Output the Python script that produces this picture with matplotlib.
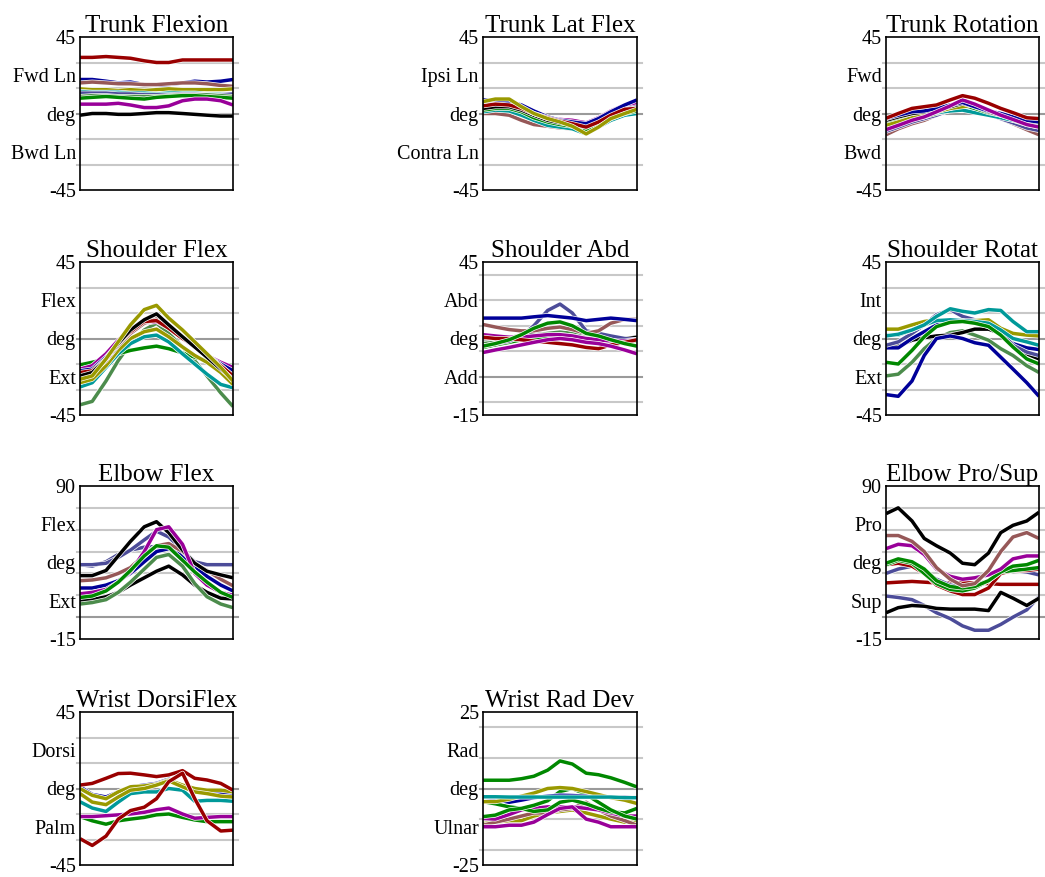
"""
Joint angle traces over one movement cycle,
one small panel per joint.
"""

import matplotlib

matplotlib.use("Agg")
import matplotlib.patheffects as pe
import matplotlib.pyplot as plt
import numpy as np

plt.rcParams["font.family"] = ["Liberation Serif", "DejaVu Serif"]

# percent of cycle
pct = [0, 8, 17, 25, 33, 42, 50, 58, 67, 75, 83, 92, 100]

RED = "#990000"
NAVY = "#000099"
BROWN = "#965858"
OLIVE = "#999900"
TEAL = "#009999"
GREEN = "#008800"
PURPLE = "#990099"
BLACK = "#000000"
SLATE = "#4c4c99"
SAGE = "#4c8c4c"

trunk_flex = [
    [33, 33, 33.5, 33, 32.5, 31, 30, 30, 31.5, 31.5, 31.5, 31.5, 31.5],
    [20, 20, 19, 18, 18.5, 17, 16.5, 17, 18, 19, 18.5, 19, 20],
    [18, 18.5, 18, 17.5, 17.5, 17, 17, 17.5, 18, 18, 17.5, 16.5, 16],
    [14.5, 14, 14, 13.5, 14, 13.5, 14, 14.5, 14, 14, 14, 14, 14.5],
    [13, 12.5, 12.5, 12.5, 12, 12, 11.5, 12, 12, 12, 11.5, 11.5, 11],
    [12, 12, 12, 11.5, 11.5, 11, 11, 11, 11.5, 11.5, 11, 11, 11.5],
    [10, 10.5, 10.5, 10, 10, 10, 10, 10.5, 11, 11, 11, 10.5, 10],
    [9, 9.5, 10, 9.5, 9, 8.5, 9.5, 10, 10.5, 10.5, 10, 9.5, 9],
    [5.5, 5.5, 5.5, 6, 5, 3.5, 3.5, 4.5, 7.5, 8.5, 8.5, 7.5, 5],
    [-1, 0, 0, -0.5, -0.5, 0, 0.5, 0.5, 0, -0.5, -1, -1.5, -1.5],
]
trunk_flex_colors = [RED, NAVY, BROWN, OLIVE, TEAL, SLATE, SAGE, GREEN, PURPLE, BLACK]

trunk_lat = [
    [1.5, 2, 2, 0, -3, -6, -7, -8.5, -10, -7, -3, -0.5, 0],
    [0, 0, -1, -4, -6.5, -7.5, -8.5, -9, -9.5, -7, -3, 0, 1],
    [1, 2, 1.5, -1, -4, -7, -8, -9, -12, -8, -4, -1, 0],
    [2, 3, 3, 1, -2.5, -5, -6.5, -7.5, -9.5, -6.5, -3, 0, 1.5],
    [3, 4, 4, 2, -1, -4, -5.5, -6.5, -8, -5, -1.5, 2, 3.5],
    [6, 7, 6, 4, 0.5, -2.5, -4, -5, -6.5, -3.5, 0, 4, 6],
    [6.5, 6, 5.5, 3.5, 0, -3, -3.5, -4, -5.5, -2.5, 1.5, 5, 6.5],
    [8, 8, 7, 5, 1.5, -2, -4, -5, -6, -3, 1, 5, 8],
    [4.5, 5.5, 5, 3, 0, -2.5, -4.5, -6, -8, -5, -1, 2.5, 3],
    [7, 8.5, 8.5, 4, 0, -3, -5, -7.5, -12, -8, -3, 0, 2.5],
]
trunk_lat_colors = [SAGE, BROWN, TEAL, GREEN, BLACK, SLATE, PURPLE, NAVY, RED, OLIVE]

trunk_rot = [
    [-12.5, -9, -6, -4, -1, 3, 6.5, 4, 0, -3, -6, -9.5, -12.5],
    [-10.5, -8, -5, -3, -1, 2, 5, 3, -0.5, -3, -5.5, -8.5, -10],
    [-8, -6, -3.5, -2, 0, 2, 4, 2.5, 0, -2, -4, -6.5, -8],
    [-5, -3, -1, 0, 0.5, 1.5, 2, 0.5, -1, -2.5, -4, -5.5, -6],
    [-6, -4, -2, 0, 1.5, 3, 5, 3, 0.5, -1, -3, -5, -6.5],
    [-7, -5, -2.5, -1, 1, 3, 4, 5, 2, -0.5, -3, -5, -7],
    [-4, -2, 0, 1, 2, 4, 6, 4, 1, -1, -3, -5, -5.5],
    [-3, -1, 1, 1.5, 3, 5, 6.5, 4, 1.5, 0, -2, -4, -5],
    [-9.5, -7, -4, -2, 1, 4.5, 8, 5.5, 2, -1, -3.5, -6.5, -8],
    [-2.8, 0, 3, 4, 5, 8, 10.5, 9, 6, 3, 0.5, -2.5, -3],
]
trunk_rot_colors = [BROWN, SLATE, SAGE, TEAL, GREEN, OLIVE, BLACK, NAVY, PURPLE, RED]

shoulder_flex = [
    [-39, -37, -25, -13, -3, 5, 9, 3, -5, -13, -22, -32, -40],
    [-15.5, -14, -12, -9, -7, -5.5, -4.5, -6, -8.5, -11, -13, -15, -16],
    [-28.5, -26, -17, -9, -3, 1, 2, -2, -9, -15, -21, -27, -29],
    [-26, -24, -16, -7, 0, 4, 5.5, 1, -5, -10, -14, -20, -27],
    [-18, -16, -9, -1, 5, 9, 10, 6, 0, -5, -10, -14, -17],
    [-19, -18, -11, -3, 4, 9, 11, 7, 1, -4, -10, -15, -19],
    [-21, -20, -13, -4, 3, 9, 11.5, 7, 1, -4, -10, -16, -22],
    [-20, -19, -12, -3, 4, 10, 10.5, 6, 0, -4, -10, -16, -22],
    [-22, -20, -12, -3, 5, 11, 14.5, 8, 1, -5, -11, -18, -24],
    [-24, -22, -12, -2, 8, 17, 19.5, 12, 5, -2, -9, -17, -25],
]
shoulder_flex_colors = [SAGE, GREEN, TEAL, OLIVE, PURPLE, NAVY, BROWN, RED, BLACK, OLIVE]

shoulder_abd = [
    [14.5, 14.5, 15, 15, 15.5, 16, 16, 15.5, 15, 15, 15, 14.5, 14],
    [15, 15, 15.5, 16, 16.5, 17, 17, 16.5, 16, 15.5, 15, 15, 15.5],
    [13, 13.5, 14, 15, 16, 17, 17.5, 17, 16, 15.5, 15, 14.5, 14],
    [11.5, 12.5, 13.5, 14.5, 15, 16, 16.5, 16, 15, 14.5, 14, 14, 14],
    [12, 13, 14, 16, 20, 26, 28.5, 25, 18, 17, 16, 15, 14.5],
    [20.5, 19.5, 18.5, 18, 18, 19, 19.5, 18.5, 17, 18, 21, 22.5, 22.5],
    [16.5, 16, 15.5, 15.5, 16, 16.5, 16.5, 16, 15, 14.5, 14, 14, 14.5],
    [15.5, 15, 15, 14.5, 14, 13.5, 13, 12.5, 11.5, 11, 12.5, 13.5, 14.5],
    [12, 13, 14.5, 16.5, 19, 21, 21.5, 20, 17, 16, 14.5, 13, 12],
    [9.5, 10.5, 11.5, 12.5, 13.5, 14.5, 15, 14.5, 13.5, 13, 12, 10.5, 9],
    [23, 23, 23, 23, 23.5, 24, 23.5, 23, 22, 22.5, 23, 22.5, 22],
]
shoulder_abd_colors = [TEAL, BLACK, SAGE, GREEN, SLATE, BROWN, PURPLE, RED, GREEN, PURPLE, NAVY]

shoulder_rot = [
    [-22, -21, -14, -6, 0, 3.5, 4.5, 2, -1, -6, -10, -16, -20],
    [-3.5, -4.5, -1, 0.5, 1.5, 2, 3.5, 5.5, 5.5, 3, -4, -9, -12],
    [-5.5, -5.5, 0, 4, 8, 10.5, 10, 9.5, 7, 3, -3, -5.5, -6.5],
    [-4, -2, 3, 8, 14, 17, 13, 11, 8.5, 4, -4, -8, -10],
    [5.5, 5.5, 8, 10, 11, 10.5, 10, 10.5, 11, 6, 3, 2, 1.5],
    [2, 2, 5, 8, 10.5, 11, 10.5, 10, 9, 5, 0, -2, -4],
    [1.5, 2.5, 5, 8, 13, 17.5, 16, 15, 17, 16.5, 10, 4, 4],
    [-14, -15, -7, 1, 7, 9.5, 10, 9, 7, 2, -5, -12, -15],
    [-33, -34, -25, -10, 0, 1.5, 0, -2.5, -4, -11, -18, -26, -34],
]
shoulder_rot_colors = [SAGE, BLACK, NAVY, SLATE, OLIVE, TEAL, TEAL, GREEN, NAVY]

elbow_flex = [
    [36, 35, 38, 43, 46, 48, 48.5, 47, 40, 36, 36, 36, 35.5],
    [36, 36, 37, 41, 46, 53, 59, 55, 46, 38, 36, 36, 36],
    [11, 12, 14, 17, 22, 27, 31.5, 35, 29, 22, 17, 13, 12.5],
    [20, 20, 22, 25, 30, 38, 45, 47, 42, 35, 28, 22, 18],
    [25, 25.5, 27, 30, 34, 43, 49, 50.5, 45, 37, 32, 26, 21.5],
    [28.5, 28.5, 32, 42, 52, 62, 65.5, 58, 46, 37, 31.5, 29, 27],
    [16, 17, 19, 24, 31, 45, 60, 62, 50, 30, 22, 17, 15],
    [13.5, 14.5, 18, 24, 32, 42, 49, 48, 39, 31, 24, 17, 13.5],
    [9, 10, 12, 17, 24, 33, 41, 43, 35, 23, 14, 9, 6.5],
]
elbow_flex_colors = [SLATE, SLATE, BLACK, NAVY, BROWN, BLACK, PURPLE, GREEN, SAGE]

elbow_pro = [
    [14.5, 13.5, 12, 8, 3, -1, -6, -9, -9, -5, 0, 5, 14],
    [3, 6.5, 8, 7.5, 6, 5.5, 5.5, 5.5, 4.5, 17, 13, 8, 13],
    [23.5, 24, 24.5, 24, 23.5, 23.5, 23.5, 23.5, 23, 22.5, 22.5, 22.5, 22.5],
    [30, 33, 35, 31, 26, 22, 21, 22, 25, 30, 32, 31, 29],
    [36, 37, 35, 30, 22, 18, 15.5, 15.5, 20, 30, 32, 32, 33],
    [36, 39, 37, 30, 23, 19, 18, 20, 25, 31, 32, 33, 34],
    [37, 40, 38, 33, 25, 21, 20, 21, 25, 31, 35, 36, 39],
    [47, 50, 49, 43, 33, 28, 26, 27, 29, 33, 40, 42, 42],
    [56, 56, 52, 45, 34, 26, 21.5, 23, 32, 45, 55, 58, 54],
    [71, 75, 66, 54, 49, 44, 37, 36, 44, 58, 63, 66, 72],
]
elbow_pro_colors = [SLATE, BLACK, RED, SLATE, RED, GREEN, GREEN, PURPLE, BROWN, BLACK]

wrist_dorsi = [
    [-16.5, -19, -21, -19, -18, -17, -15.5, -15, -17, -18.5, -19.5, -19.5, -19.5],
    [-16.5, -16.5, -16, -15.5, -15, -14, -12.5, -11.5, -15, -17.5, -17, -16.5, -16.5],
    [-7.8, -11.5, -13.5, -8, -3, -2, -2, 0, -1, -7.5, -7, -7, -7.5],
    [1, -3.5, -5, -2, 1, 2, 3, 5.5, 1, -1.5, -2, -3, -4],
    [0, -4, -6, -2, 1, 1.5, 2.5, 5, 2, 0, -1, -1, -2],
    [-3, -8, -9.5, -5, -1, 0, 2, 4.5, 1, -2, -3, -4.5, -5],
    [2, 3, 6, 8.8, 9, 8, 7, 8, 10.5, 6, 5, 3, -1],
    [-29.5, -33.5, -28, -18, -13, -11, -6, 4, 9, -6, -19, -25, -24.5],
]
wrist_dorsi_colors = [GREEN, PURPLE, TEAL, NAVY, OLIVE, OLIVE, RED, RED]

wrist_rad = [
    [-11.5, -11, -10.5, -10.5, -9, -8, -7.5, -7, -8, -9, -10, -11, -11],
    [-12, -11, -10, -9, -8, -8, -7, -6.5, -4.5, -7, -9, -10.5, -12],
    [-9.8, -10, -8.5, -7, -6.5, -6, -6, -6, -6.5, -7, -8, -9, -9],
    [-12.5, -12.5, -12, -12, -11, -8.5, -6.5, -6, -10, -11, -12.5, -12.5, -12.5],
    [-4.3, -5, -6, -6.5, -7.5, -7, -4.5, -3.8, -5, -6.5, -7.6, -8, -6.5],
    [-9.2, -8.7, -7, -6.5, -5.5, -4, -1, 0, -2, -4.5, -7, -9, -10],
    [-2.7, -3.5, -4.5, -3.8, -3, -2.5, -2.2, -2.3, -2.5, -2.7, -2.8, -2.8, -3.2],
    [-4.3, -4.3, -3.5, -2.5, -1.5, 0, 0.3, 0, -1, -2, -3, -3.8, -4.9],
    [-2.7, -2.7, -2.8, -2.8, -2.8, -2.8, -2.8, -2.8, -2.8, -2.8, -2.8, -3, -3],
    [2.7, 2.7, 2.7, 3.2, 4, 6, 9, 8, 5, 4.5, 3.5, 2, 0.5],
]
wrist_rad_colors = [OLIVE, BROWN, PURPLE, PURPLE, GREEN, GREEN, NAVY, OLIVE, TEAL, GREEN]

# title, y range, grid step, upper/lower word labels, data, colours
panels = [
    ("Trunk Flexion", -45, 45, 15, "Fwd Ln", "Bwd Ln", trunk_flex, trunk_flex_colors),
    ("Trunk Lat Flex", -45, 45, 15, "Ipsi Ln", "Contra Ln", trunk_lat, trunk_lat_colors),
    ("Trunk Rotation", -45, 45, 15, "Fwd", "Bwd", trunk_rot, trunk_rot_colors),
    ("Shoulder Flex", -45, 45, 15, "Flex", "Ext", shoulder_flex, shoulder_flex_colors),
    ("Shoulder Abd", -15, 45, 10, "Abd", "Add", shoulder_abd, shoulder_abd_colors),
    ("Shoulder Rotat", -45, 45, 15, "Int", "Ext", shoulder_rot, shoulder_rot_colors),
    ("Elbow Flex", -15, 90, 15, "Flex", "Ext", elbow_flex, elbow_flex_colors),
    None,
    ("Elbow Pro/Sup", -15, 90, 15, "Pro", "Sup", elbow_pro, elbow_pro_colors),
    ("Wrist DorsiFlex", -45, 45, 15, "Dorsi", "Palm", wrist_dorsi, wrist_dorsi_colors),
    ("Wrist Rad Dev", -25, 25, 10, "Rad", "Ulnar", wrist_rad, wrist_rad_colors),
    None,
]

FIG_W, FIG_H = 1045, 877
col_left = [80, 483, 886]
col_width = [153, 154, 153]
row_top = [37, 262, 486, 712]
AX_H = 153


def draw_panel(ax, title, lo, hi, step, up_lab, down_lab, series, colors):
    ax.set_xlim(0, 100)
    ax.set_ylim(lo, hi)

    # horizontal reference lines, slightly wider than the box
    first = np.ceil((lo + 1e-6) / step) * step
    for y in np.arange(first, hi - 1e-6, step):
        col = "#9a9a9a" if abs(y) < 1e-6 else "#c8c8c8"
        ax.plot([-2, 103], [y, y], color=col, lw=1.5, clip_on=False, zorder=1)

    stroke = [pe.withStroke(linewidth=3.5, foreground="white")]
    for vals, c in zip(series, colors):
        ax.plot(pct, vals, color=c, lw=2.5, zorder=3, path_effects=stroke,
                solid_capstyle="butt")

    q = (hi - lo) / 4
    ax.set_yticks([hi, hi - q, lo + 2 * q, lo + q, lo])
    ax.set_yticklabels([str(hi), up_lab, "deg", down_lab, str(lo)])
    ax.tick_params(axis="y", length=0, pad=3, labelsize=14.5)
    ax.set_xticks([])
    for sp in ax.spines.values():
        sp.set_linewidth(1.2)
        sp.set_zorder(5)
    ax.set_title(title, fontsize=18, pad=3)


fig = plt.figure(figsize=(FIG_W / 100, FIG_H / 100), dpi=100)
for i, spec in enumerate(panels):
    if spec is None:
        continue
    r, c = divmod(i, 3)
    left = col_left[c] / FIG_W
    bottom = 1 - (row_top[r] + AX_H) / FIG_H
    ax = fig.add_axes([left, bottom, col_width[c] / FIG_W, AX_H / FIG_H])
    draw_panel(ax, *spec)

fig.savefig("out.png", dpi=100, facecolor="white")
